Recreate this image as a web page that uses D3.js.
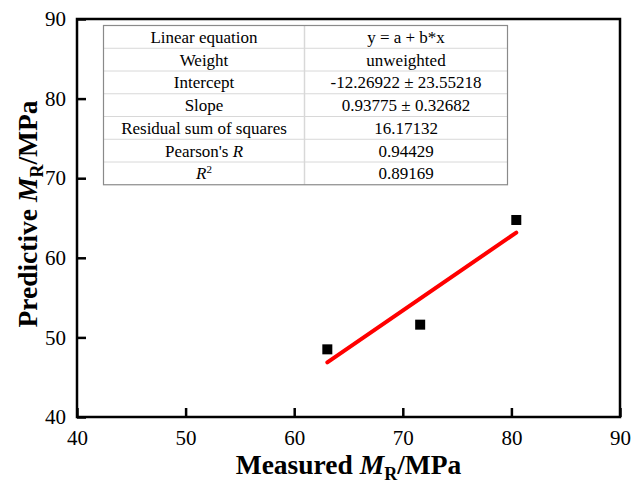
<!DOCTYPE html>
<html>
<head>
<meta charset="utf-8">
<script src="https://cdn.jsdelivr.net/npm/d3@7"></script>
<style>
  body { margin: 0; background: #fff; }
</style>
</head>
<body>
<div id="chart"></div>
<script>
// measured vs predicted resilient modulus
var measured = [63.05, 71.6, 80.45];
var predicted = [48.5, 51.6, 64.75];
var xTicks = [40, 50, 60, 70, 80, 90];
var yTicks = [40, 50, 60, 70, 80, 90];
var fitIntercept = -12.26922;
var fitSlope = 0.93775;

var tableLabels = ["Linear equation", "Weight", "Intercept", "Slope", "Residual sum of squares", "Pearson's R", "R2"];
var tableValues = ["y = a + b*x", "unweighted", "-12.26922 \u00b1 23.55218", "0.93775 \u00b1 0.32682", "16.17132", "0.94429", "0.89169"];

var serif = "'Liberation Serif', 'Times New Roman', serif";
var width = 632, height = 485;
var margin = {top: 19, right: 12, bottom: 68, left: 77};

var svg = d3.select("#chart")
    .append("svg")
    .attr("width", width)
    .attr("height", height)
    .style("font-family", serif);

var xScale = d3.scaleLinear()
    .domain([40, 90])
    .range([margin.left, width - margin.right]);

var yScale = d3.scaleLinear()
    .domain([40, 90])
    .range([height - margin.bottom, margin.top]);

// axes with inward ticks
var xAxis = svg.append("g")
    .attr("transform", `translate(0, ${height - margin.bottom})`)
    .call(d3.axisBottom(xScale).tickValues(xTicks).tickSizeInner(-9).tickSizeOuter(0).tickPadding(13));

var yAxis = svg.append("g")
    .attr("transform", `translate(${margin.left}, 0)`)
    .call(d3.axisLeft(yScale).tickValues(yTicks).tickSizeInner(-9).tickSizeOuter(0).tickPadding(11));

[xAxis, yAxis].forEach(function(ax){
    ax.attr("font-family", null).attr("font-size", null);
    ax.selectAll("line").attr("stroke", "#000").attr("stroke-width", 2.5);
    ax.select(".domain").remove();
    ax.selectAll("text")
        .style("font-family", serif)
        .style("font-size", "21px")
        .attr("fill", "#000");
});
xAxis.selectAll("text").attr("dy", "0.71em");

// frame
svg.append("rect")
    .attr("x", xScale(40))
    .attr("y", yScale(90))
    .attr("width", xScale(90) - xScale(40))
    .attr("height", yScale(40) - yScale(90))
    .attr("fill", "none")
    .attr("stroke", "#000")
    .attr("stroke-width", 2.5);

// fit line
var xMin = d3.min(measured), xMax = d3.max(measured);
svg.append("line")
    .attr("x1", xScale(xMin))
    .attr("y1", yScale(fitIntercept + fitSlope * xMin))
    .attr("x2", xScale(xMax))
    .attr("y2", yScale(fitIntercept + fitSlope * xMax))
    .attr("stroke", "#f00")
    .attr("stroke-width", 4)
    .attr("stroke-linecap", "round");

// points
var sq = 10;
svg.selectAll(".pt")
    .data(measured)
    .enter()
    .append("rect")
    .attr("class", "pt")
    .attr("x", function(d){ return xScale(d) - sq / 2; })
    .attr("y", function(d, i){ return yScale(predicted[i]) - sq / 2; })
    .attr("width", sq)
    .attr("height", sq)
    .attr("fill", "#000");

// table
var tx = 103.5, ty = 25.5, tw = 404, rowH = 22.75, colSplit = 201;
var table = svg.append("g").attr("transform", `translate(${tx},${ty})`);

table.append("rect")
    .attr("width", tw)
    .attr("height", rowH * tableLabels.length)
    .attr("fill", "#fff");

for (var r = 1; r < tableLabels.length; r++) {
    table.append("line")
        .attr("x1", 0).attr("x2", tw)
        .attr("y1", r * rowH).attr("y2", r * rowH)
        .attr("stroke", "#d8d8d8").attr("stroke-width", 1);
}
table.append("line")
    .attr("x1", colSplit).attr("x2", colSplit)
    .attr("y1", 0).attr("y2", rowH * tableLabels.length)
    .attr("stroke", "#d8d8d8").attr("stroke-width", 1.5);

table.append("rect")
    .attr("width", tw)
    .attr("height", rowH * tableLabels.length)
    .attr("fill", "none")
    .attr("stroke", "#8a8a8a")
    .attr("stroke-width", 1.2);

tableLabels.forEach(function(lab, i){
    var t = table.append("text")
        .attr("x", colSplit / 2)
        .attr("y", i * rowH + rowH / 2 + 6)
        .attr("text-anchor", "middle")
        .style("font-family", serif)
        .style("font-size", "17px")
        .attr("fill", "#000");
    if (lab === "Pearson's R") {
        t.append("tspan").text("Pearson's ");
        t.append("tspan").style("font-style", "italic").text("R");
    } else if (lab === "R2") {
        t.append("tspan").style("font-style", "italic").text("R");
        t.append("tspan").attr("dy", -6).style("font-size", "11px").text("2");
    } else {
        t.text(lab);
    }
});

tableValues.forEach(function(v, i){
    table.append("text")
        .attr("x", colSplit + (tw - colSplit) / 2)
        .attr("y", i * rowH + rowH / 2 + 6)
        .attr("text-anchor", "middle")
        .style("font-family", serif)
        .style("font-size", "17px")
        .attr("fill", "#000")
        .text(v);
});

// axis titles
var xTitle = svg.append("text")
    .attr("x", (xScale(40) + xScale(90)) / 2)
    .attr("y", 474)
    .attr("text-anchor", "middle")
    .style("font-family", serif)
    .style("font-size", "27.5px")
    .style("font-weight", "bold");
xTitle.append("tspan").text("Measured ");
xTitle.append("tspan").style("font-style", "italic").text("M");
xTitle.append("tspan").attr("dy", 6).style("font-size", "18px").text("R");
xTitle.append("tspan").attr("dy", -6).text("/MPa");

var yTitle = svg.append("text")
    .attr("transform", `translate(37, ${(yScale(40) + yScale(90)) / 2 - 4}) rotate(-90)`)
    .attr("text-anchor", "middle")
    .style("font-family", serif)
    .style("font-size", "27.5px")
    .style("font-weight", "bold");
yTitle.append("tspan").text("Predictive ");
yTitle.append("tspan").style("font-style", "italic").text("M");
yTitle.append("tspan").attr("dy", 6).style("font-size", "18px").text("R");
yTitle.append("tspan").attr("dy", -6).text("/MPa");
</script>
</body>
</html>
